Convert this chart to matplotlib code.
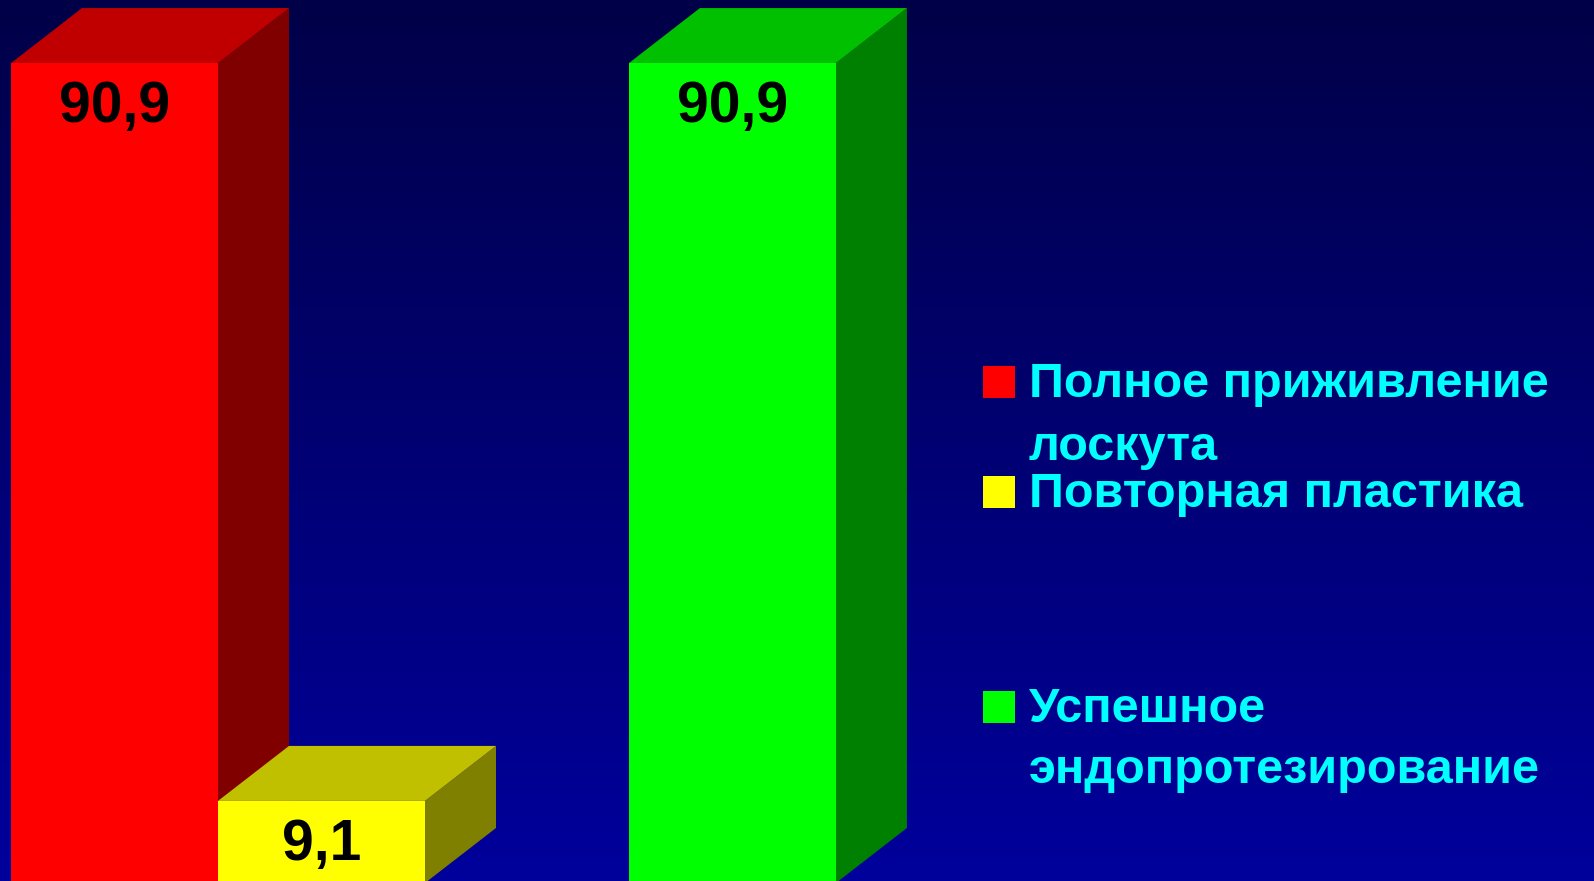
import numpy as np
import matplotlib
matplotlib.use('Agg')
import matplotlib.pyplot as plt
from matplotlib.patches import Polygon
from matplotlib.colors import LinearSegmentedColormap

# data
series = [['Полное приживление', 'лоскута'],
          ['Повторная пластика'],
          ['Успешное', 'эндопротезирование']]
values = [90.9, 9.1, 90.9]
labels = ['90,9', '9,1', '90,9']
positions = [0, 1, 2.985]
front_colors = ['#FF0000', '#FFFF00', '#00FF00']
top_colors = ['#C00000', '#C0C000', '#00C000']
side_colors = ['#800000', '#808000', '#008000']

W, H = 1594, 881
fig = plt.figure(figsize=(W / 100, H / 100), dpi=100)
ax = fig.add_axes([0, 0, 1, 1])

# pixel scale: bar width 207 px, one value unit ~9 px, baseline just below the bottom edge
px_x = 207.0
px_y = 9.02
x_left = -11 / px_x
x_right = x_left + W / px_x
y_bottom = 2 / px_y
y_top = y_bottom + H / px_y
ax.set_xlim(x_left, x_right)
ax.set_ylim(y_bottom, y_top)
ax.axis('off')

# background gradient
cmap = LinearSegmentedColormap.from_list('bg', ['#00009C', '#000048'])
grad = np.linspace(0, 1, 256).reshape(-1, 1)
ax.imshow(grad, cmap=cmap, extent=[x_left, x_right, y_bottom, y_top],
          aspect='auto', origin='lower', zorder=0)

dx = 71 / px_x
dy = 55 / px_y

for i, (pos, v) in enumerate(zip(positions, values)):
    z = 2 + i * 3
    x0, x1 = pos, pos + 1
    ax.bar(pos, v, width=1, align='edge', color=front_colors[i],
           linewidth=0, zorder=z + 2)
    top = Polygon([(x0, v), (x0 + dx, v + dy), (x1 + dx, v + dy), (x1, v)],
                  closed=True, facecolor=top_colors[i], edgecolor='none',
                  zorder=z + 1)
    side = Polygon([(x1, 0), (x1 + dx, dy), (x1 + dx, v + dy), (x1, v)],
                   closed=True, facecolor=side_colors[i], edgecolor='none',
                   zorder=z)
    ax.add_patch(top)
    ax.add_patch(side)
    ax.annotate(labels[i], (pos + 0.5, v), xytext=(0, -44),
                textcoords='offset pixels', ha='center', va='center',
                fontsize=41, fontweight='bold', color='black',
                family='Liberation Sans', zorder=20)

# legend drawn by hand (baselines in pixels from top)
legend_base = [[397, 460], [507], [722, 783]]
for i, lines in enumerate(series):
    yb = legend_base[i][0]
    ax.add_patch(plt.Rectangle((x_left + 983 / px_x, y_bottom + (H - yb - 1) / px_y),
                               32 / px_x, 32 / px_y,
                               facecolor=front_colors[i], edgecolor='none',
                               zorder=20))
    for line, yl in zip(lines, legend_base[i]):
        fig.text(1029 / W, 1 - yl / H, line, ha='left', va='baseline',
                 fontsize=35, fontweight='bold', color='#00FFFF',
                 family='Liberation Sans')

fig.savefig('out.png', dpi=100)
